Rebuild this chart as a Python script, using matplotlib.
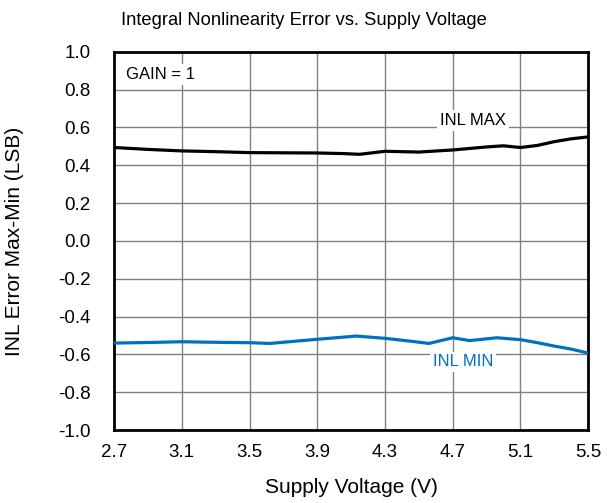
import matplotlib.pyplot as plt

plt.rcParams['font.family'] = ['Liberation Sans', 'DejaVu Sans']

# INL max curve
v_max = [2.7, 2.9, 3.1, 3.3, 3.5, 3.7, 3.9, 4.05, 4.15, 4.3, 4.5, 4.7, 4.9, 5.0, 5.1, 5.2, 5.3, 5.4, 5.5]
inl_max = [0.494, 0.484, 0.476, 0.472, 0.467, 0.466, 0.465, 0.462, 0.458, 0.474, 0.470, 0.481, 0.497, 0.503, 0.494, 0.505, 0.525, 0.540, 0.550]

# INL min curve
v_min = [2.7, 2.9, 3.1, 3.3, 3.5, 3.62, 3.9, 4.13, 4.3, 4.45, 4.56, 4.7, 4.8, 4.96, 5.1, 5.2, 5.3, 5.4, 5.5]
inl_min = [-0.540, -0.537, -0.533, -0.536, -0.538, -0.542, -0.520, -0.503, -0.515, -0.530, -0.542, -0.512, -0.527, -0.512, -0.522, -0.538, -0.556, -0.572, -0.593]

xticks = [2.7, 3.1, 3.5, 3.9, 4.3, 4.7, 5.1, 5.5]
yticks = [-1.0, -0.8, -0.6, -0.4, -0.2, 0.0, 0.2, 0.4, 0.6, 0.8, 1.0]

fig = plt.figure(figsize=(6.07, 5.03), dpi=100)
ax = fig.add_axes([0.188, 0.145, 0.781, 0.752])

ax.plot(v_max, inl_max, color='black', lw=2.3, zorder=3, solid_joinstyle='round')
ax.plot(v_min, inl_min, color='#0070C0', lw=2.3, zorder=3, solid_joinstyle='round')

ax.set_xlim(2.7, 5.5)
ax.set_ylim(-1.0, 1.0)
ax.set_xticks(xticks)
ax.set_yticks(yticks)
ax.set_xticklabels([f'{t:.1f}' for t in xticks])
ax.set_yticklabels([f'{t:.1f}' for t in yticks])
ax.tick_params(length=0, labelsize=13.5)
ax.tick_params(axis='x', pad=10)
ax.tick_params(axis='y', pad=17)
ax.grid(True, color='#808080', lw=1.0)
ax.set_axisbelow(True)
for s in ax.spines.values():
    s.set_linewidth(2.0)

fig.text(0.5, 1 - 25 / 503, 'Integral Nonlinearity Error vs. Supply Voltage',
         fontsize=13.2, ha='center', va='baseline')
ax.set_xlabel('Supply Voltage (V)', fontsize=15, labelpad=12)
fig.text(15 / 607, 0.521, 'INL Error Max-Min (LSB)', fontsize=15,
         rotation=90, ha='center', va='center')

box = dict(facecolor='white', edgecolor='none', pad=2)
ax.text(2.77, 0.88, 'GAIN = 1', fontsize=12, va='center', ha='left', bbox=box, zorder=4)
ax.text(4.82, 0.636, 'INL MAX', fontsize=12, va='center', ha='center', bbox=box, zorder=4)
ax.text(4.76, -0.64, 'INL MIN', fontsize=12, va='center', ha='center', color='#0070C0', bbox=box, zorder=4)

fig.savefig('out.png', dpi=100)
